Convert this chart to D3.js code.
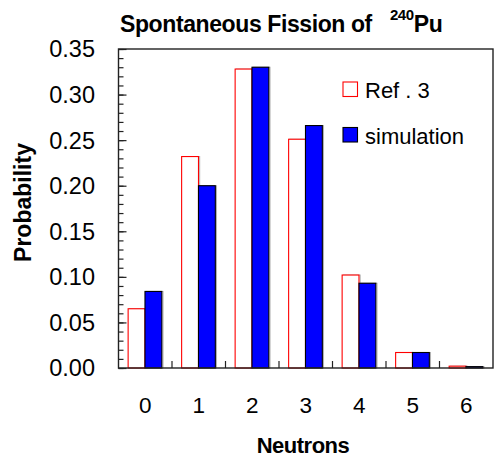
<!DOCTYPE html>
<html>
<head>
<meta charset="utf-8">
<script src="https://cdn.jsdelivr.net/npm/d3@7"></script>
<style>
  html, body { margin: 0; padding: 0; background: #fff; }
  text { font-family: "Liberation Sans", Arial, sans-serif; fill: #000; }
</style>
</head>
<body>
<svg id="chart" width="495" height="458"></svg>
<script>
// Neutron multiplicity distribution for spontaneous fission of Pu-240
const neutrons = ["0", "1", "2", "3", "4", "5", "6"];
const refValues = [0.065, 0.232, 0.328, 0.251, 0.102, 0.017, 0.002];
const simValues = [0.084, 0.200, 0.330, 0.266, 0.093, 0.017, 0.0015];
const seriesNames = ["Ref . 3", "simulation"];
const yTickValues = [0, 0.05, 0.10, 0.15, 0.20, 0.25, 0.30, 0.35];

const svg = d3.select("#chart");
const margin = { left: 118.5, right: 2, top: 49, bottom: 90 };
const W = 495, H = 458;
const plotL = margin.left, plotR = W - margin.right;
const plotT = margin.top, plotB = H - margin.bottom;

const x0 = d3.scaleBand().domain(neutrons).range([plotL, plotR]).padding(0);
const bw = x0.bandwidth();
const x1 = d3.scaleBand().domain(seriesNames).range([bw * 0.18, bw * 0.81]).padding(0);
const y = d3.scaleLinear().domain([0, 0.35]).range([plotB, plotT]);

const rows = neutrons.map((n, i) => ({ n, vals: [refValues[i], simValues[i]] }));

// Bars
const groups = svg.append("g").selectAll("g").data(rows).join("g")
  .attr("transform", d => `translate(${x0(d.n)},0)`);

groups.each(function (d) {
  const g = d3.select(this);
  d.vals.forEach((v, k) => {
    const bx = x1(seriesNames[k]);
    const w = x1.bandwidth();
    // soft grey shadow edge
    g.append("rect")
      .attr("x", bx + 1.2).attr("y", y(v))
      .attr("width", w).attr("height", plotB - y(v))
      .attr("fill", "none").attr("stroke", "#b0b0b0").attr("stroke-width", 1);
    g.append("rect")
      .attr("x", bx).attr("y", y(v))
      .attr("width", w).attr("height", plotB - y(v))
      .attr("fill", k === 0 ? "#ffffff" : "#0000ff")
      .attr("stroke", k === 0 ? "#ff0000" : "#000000")
      .attr("stroke-width", 1.1);
  });
});

// Frame
svg.append("rect")
  .attr("x", plotL).attr("y", plotT)
  .attr("width", plotR - plotL).attr("height", plotB - plotT)
  .attr("fill", "none").attr("stroke", "#222").attr("stroke-width", 1.4);

// Left axis: ticks drawn inside the frame
const yMinor = d3.range(0, 0.3501, 0.01);
svg.append("g").attr("transform", `translate(${plotL},0)`)
  .call(d3.axisRight(y).tickValues(yMinor).tickSize(5).tickFormat(""))
  .call(g => g.select(".domain").remove())
  .call(g => g.selectAll("line").attr("stroke", "#222").attr("stroke-width", 1.2));
svg.append("g").attr("transform", `translate(${plotL},0)`)
  .call(d3.axisRight(y).tickValues(yTickValues).tickSize(8).tickFormat(""))
  .call(g => g.select(".domain").remove())
  .call(g => g.selectAll("line").attr("stroke", "#222").attr("stroke-width", 1.2));

// Left axis labels
svg.append("g").selectAll("text").data(yTickValues).join("text")
  .attr("x", 95).attr("y", d => y(d))
  .attr("dy", "0.36em")
  .attr("text-anchor", "end")
  .attr("font-size", 23.5)
  .text(d => d3.format(".2f")(d));

// Bottom axis: separators between categories, pointing up
const sepValues = neutrons.slice(1);
svg.append("g").selectAll("line").data(sepValues).join("line")
  .attr("x1", d => x0(d)).attr("x2", d => x0(d))
  .attr("y1", plotB).attr("y2", plotB - 7)
  .attr("stroke", "#222").attr("stroke-width", 1.2);

svg.append("g").selectAll("text").data(neutrons).join("text")
  .attr("x", d => x0(d) + bw / 2).attr("y", 413)
  .attr("text-anchor", "middle")
  .attr("font-size", 22.5)
  .text(d => d);

// Axis titles
svg.append("text")
  .attr("x", 303).attr("y", 453)
  .attr("text-anchor", "middle")
  .attr("font-size", 22)
  .attr("font-weight", "bold")
  .attr("letter-spacing", -0.5)
  .text("Neutrons");

svg.append("text")
  .attr("transform", "translate(31,202.5) rotate(-90)")
  .attr("text-anchor", "middle")
  .attr("font-size", 23)
  .attr("font-weight", "bold")
  .text("Probability");

// Title with isotope superscript
const title = svg.append("text")
  .attr("x", 120).attr("y", 31.5)
  .attr("font-size", 23)
  .attr("font-weight", "bold")
  .attr("letter-spacing", -0.4);
title.append("tspan").text("Spontaneous Fission of ");
title.append("tspan").attr("font-size", 15).attr("dx", 12).attr("dy", -12).text("240");
title.append("tspan").attr("dy", 12).text("Pu");

// Legend
const legend = svg.append("g");
const legendY = [82, 127.5];
seriesNames.forEach((name, k) => {
  legend.append("rect")
    .attr("x", 343).attr("y", legendY[k])
    .attr("width", 14.5).attr("height", 14.5)
    .attr("fill", k === 0 ? "#ffffff" : "#0000ff")
    .attr("stroke", k === 0 ? "#ff0000" : "#000000")
    .attr("stroke-width", 1.1);
  legend.append("text")
    .attr("x", 365).attr("y", legendY[k] + 16)
    .attr("font-size", 22)
    .text(name);
});
</script>
</body>
</html>
